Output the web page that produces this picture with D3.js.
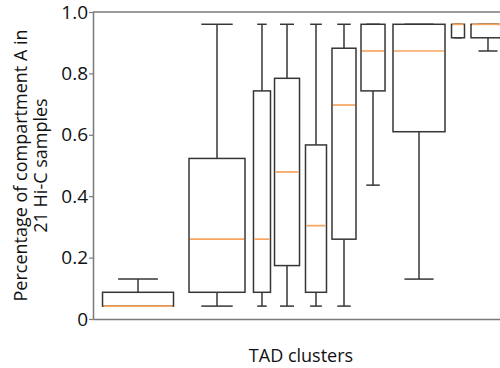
<!DOCTYPE html>
<html>
<head>
<meta charset="utf-8">
<script src="https://cdn.jsdelivr.net/npm/d3@7"></script>
<style>
  body { margin: 0; background: #fff; }
  text { font-family: "Open Sans", sans-serif; fill: #111; }
</style>
</head>
<body>
<div id="chart"></div>
<script>
// TAD clusters, left to right
var clusters = ["1", "2", "3", "4", "5", "6", "7", "8", "9", "10"];
// box centre and width, in cluster-axis units
var positions = [1.106, 3.047, 4.152, 4.767, 5.479, 6.167, 6.880, 8.010, 8.968, 9.705];
var widths = [1.744, 1.376, 0.418, 0.614, 0.516, 0.590, 0.590, 1.278, 0.319, 0.835];
// five-number summaries
var whiskerLow = [0.042, 0.042, 0.042, 0.042, 0.042, 0.042, 0.436, 0.130, 0.916, 0.873];
var q1 = [0.042, 0.087, 0.087, 0.174, 0.087, 0.260, 0.743, 0.610, 0.916, 0.916];
var medians = [0.042, 0.260, 0.260, 0.479, 0.304, 0.697, 0.873, 0.873, 0.960, 0.960];
var q3 = [0.087, 0.523, 0.743, 0.784, 0.567, 0.882, 0.960, 0.960, 0.960, 0.960];
var whiskerHigh = [0.130, 0.960, 0.960, 0.960, 0.960, 0.960, 0.960, 0.960, 0.960, 0.960];
var yTicks = [0, 0.2, 0.4, 0.6, 0.8, 1.0];

var data = clusters.map(function(c, i) {
  return { name: c, pos: positions[i], w: widths[i], lo: whiskerLow[i],
           q1: q1[i], med: medians[i], q3: q3[i], hi: whiskerHigh[i] };
});

var width = 500, height = 368;
var margin = {top: 12, right: 0, bottom: 49, left: 93};

var svg = d3.select("#chart").append("svg")
  .attr("width", width)
  .attr("height", height);

var x = d3.scaleLinear().domain([0, 10]).range([margin.left, width - margin.right]);
var y = d3.scaleLinear().domain([0, 1]).range([height - margin.bottom, margin.top]);

var axisColor = "#7a7a7a";
var boxColor = "#363636";
var medColor = "#f8a45e";

// frame: top and bottom lines
svg.append("line")
  .attr("x1", x(0)).attr("x2", x(10))
  .attr("y1", y(1)).attr("y2", y(1))
  .attr("stroke", axisColor).attr("stroke-width", 1.5);

svg.append("g")
  .attr("transform", "translate(0," + y(0) + ")")
  .call(d3.axisBottom(x).tickValues([]).tickSizeOuter(0))
  .call(function(g) { g.select(".domain").attr("stroke", axisColor).attr("stroke-width", 1.5); });

svg.append("g")
  .attr("transform", "translate(" + x(0) + ",0)")
  .call(d3.axisLeft(y).tickValues(yTicks).tickSize(4).tickSizeOuter(0)
    .tickFormat(function(d) { return d === 0 ? "0" : d3.format(".1f")(d); }))
  .call(function(g) {
    g.select(".domain").attr("stroke", axisColor).attr("stroke-width", 1.5);
    g.selectAll(".tick line").attr("stroke", axisColor).attr("stroke-width", 1.2);
    g.selectAll(".tick text")
      .attr("x", -5)
      .style("font-family", "'Open Sans', sans-serif")
      .style("font-size", "19px")
      .attr("fill", "#111");
  });

var boxes = svg.append("g").selectAll("g.box")
  .data(data)
  .enter().append("g").attr("class", "box");

// whiskers
boxes.append("line")
  .attr("x1", function(d) { return x(d.pos); })
  .attr("x2", function(d) { return x(d.pos); })
  .attr("y1", function(d) { return y(d.lo); })
  .attr("y2", function(d) { return y(d.hi); })
  .attr("stroke", boxColor).attr("stroke-width", 1.5);

[["lo"], ["hi"]].forEach(function(k) {
  boxes.append("line")
    .attr("x1", function(d) { return x(d.pos - d.w * 0.28); })
    .attr("x2", function(d) { return x(d.pos + d.w * 0.28); })
    .attr("y1", function(d) { return y(d[k[0]]); })
    .attr("y2", function(d) { return y(d[k[0]]); })
    .attr("stroke", boxColor).attr("stroke-width", 1.5);
});

boxes.append("rect")
  .attr("x", function(d) { return x(d.pos - d.w / 2); })
  .attr("width", function(d) { return x(d.w) - x(0); })
  .attr("y", function(d) { return y(d.q3); })
  .attr("height", function(d) { return y(d.q1) - y(d.q3); })
  .attr("fill", "#fff")
  .attr("stroke", boxColor).attr("stroke-width", 1.5);

boxes.append("line")
  .attr("x1", function(d) { return x(d.pos - d.w / 2) + 1; })
  .attr("x2", function(d) { return x(d.pos + d.w / 2) - 1; })
  .attr("y1", function(d) { return y(d.med); })
  .attr("y2", function(d) { return y(d.med); })
  .attr("stroke", medColor).attr("stroke-width", 1.7);

// axis titles
svg.append("text")
  .attr("x", 301).attr("y", 362)
  .attr("text-anchor", "middle")
  .style("font-size", "18px")
  .text("TAD clusters");

var yt = svg.append("text")
  .attr("transform", "translate(0," + y(0.5) + ") rotate(-90)")
  .attr("text-anchor", "middle")
  .style("font-size", "18px");
yt.append("tspan").attr("x", 0).attr("y", 27).text("Percentage of compartment A in");
yt.append("tspan").attr("x", 0).attr("y", 47).text("21 Hi-C samples");
</script>
</body>
</html>
